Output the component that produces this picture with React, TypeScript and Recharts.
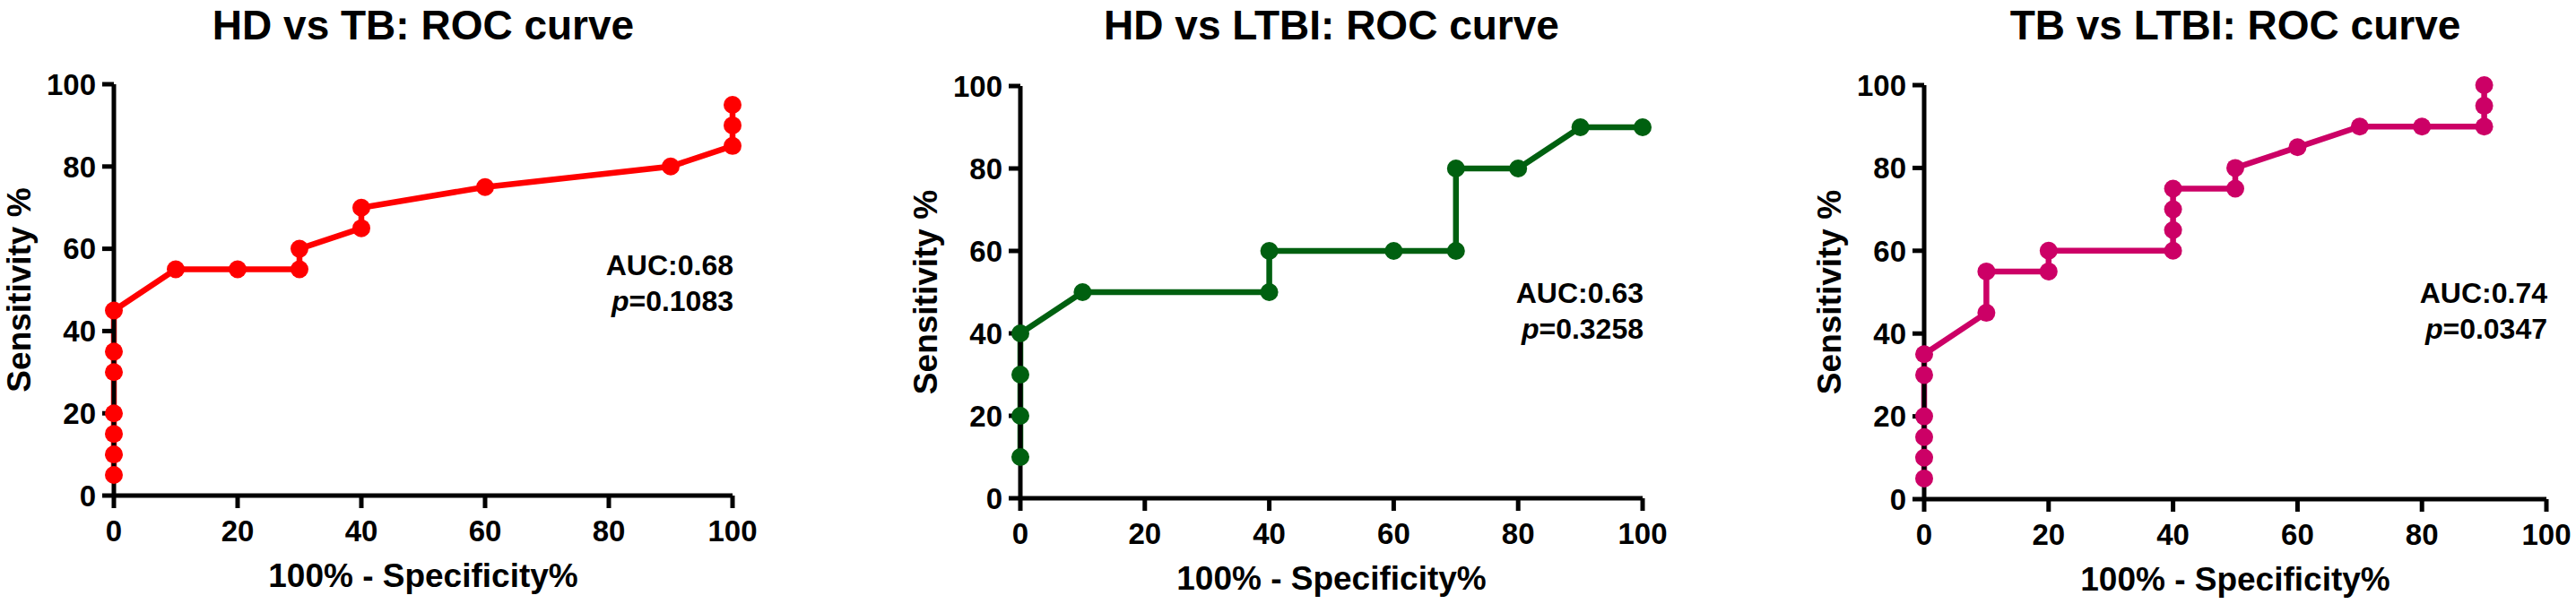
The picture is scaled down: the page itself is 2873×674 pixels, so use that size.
import React from "react";
import { LineChart, Line, XAxis, YAxis } from "recharts";

const xTicks = [0, 20, 40, 60, 80, 100];
const yTicks = [0, 20, 40, 60, 80, 100];

// 100% - specificity (x) and sensitivity (y)
const hdTbFpr = [0, 0, 0, 0, 0, 0, 0, 10, 20, 30, 30, 40, 40, 60, 90, 100, 100, 100];
const hdTbSens = [5, 10, 15, 20, 30, 35, 45, 55, 55, 55, 60, 65, 70, 75, 80, 85, 90, 95];

const hdLtbiFpr = [0, 0, 0, 0, 10, 40, 40, 60, 70, 70, 80, 90, 100];
const hdLtbiSens = [10, 20, 30, 40, 50, 50, 60, 60, 60, 80, 80, 90, 90];

const tbLtbiFpr = [0, 0, 0, 0, 0, 0, 10, 10, 20, 20, 40, 40, 40, 40, 50, 50, 60, 70, 80, 90, 90, 90];
const tbLtbiSens = [5, 10, 15, 20, 30, 35, 45, 55, 55, 60, 60, 65, 70, 75, 75, 80, 85, 90, 90, 90, 95, 100];

const titles = ["HD vs TB: ROC curve", "HD vs LTBI: ROC curve", "TB vs LTBI: ROC curve"];
const aucLabels = ["AUC:0.68", "AUC:0.63", "AUC:0.74"];
const pValues = ["0.1083", "0.3258", "0.0347"];
const colors = ["#ff0000", "#006010", "#cc0066"];

const FONT = "'Liberation Sans', Arial, Helvetica, sans-serif";
const H = 674;

const toRows = (xs: number[], ys: number[]) => xs.map((x, i) => ({ x, y: ys[i] }));

const series = [toRows(hdTbFpr, hdTbSens), toRows(hdLtbiFpr, hdLtbiSens), toRows(tbLtbiFpr, tbLtbiSens)];

// panel placement on the page
const panels = [
  { left: 0, width: 1000, l: 127, r: 817, t: 94, b: 553, note: 307 },
  { left: 1000, width: 990, l: 138, r: 832, t: 96, b: 556, note: 338 },
  { left: 1990, width: 883, l: 156, r: 850, t: 95, b: 557, note: 338 },
];

function RocPanel({ idx }: { idx: number }) {
  const p = panels[idx];
  const color = colors[idx];
  const tickStyle = { fill: "#000", fontSize: 33, fontWeight: 700, fontFamily: FONT };
  const axisStyle = { stroke: "#000", strokeWidth: 5 };
  const cx = (p.l + p.r) / 2;

  return (
    <div style={{ position: "absolute", left: p.left, top: 0, width: p.width, height: H }}>
      <LineChart
        width={p.width}
        height={H}
        data={series[idx]}
        margin={{ top: p.t, right: p.width - p.r, bottom: 0, left: 0 }}
      >
        <XAxis
          type="number"
          dataKey="x"
          domain={[0, 100]}
          ticks={xTicks}
          height={H - p.b}
          tickSize={14}
          tickMargin={14}
          tick={tickStyle}
          axisLine={axisStyle}
          tickLine={axisStyle}
          interval={0}
        />
        <YAxis
          type="number"
          domain={[0, 100]}
          ticks={yTicks}
          width={p.l}
          tickSize={13}
          tickMargin={7}
          tick={tickStyle}
          axisLine={axisStyle}
          tickLine={axisStyle}
          interval={0}
        />
        <Line
          dataKey="y"
          type="linear"
          stroke={color}
          strokeWidth={6.5}
          dot={{ r: 10, fill: color, stroke: color, strokeWidth: 0 }}
          activeDot={false}
          isAnimationActive={false}
        />
      </LineChart>
      <svg
        width={p.width}
        height={H}
        style={{ position: "absolute", left: 0, top: 0, pointerEvents: "none", overflow: "visible" }}
        fontFamily={FONT}
        fontWeight={700}
        fill="#000"
      >
        <text x={cx} y={44} fontSize={46} textAnchor="middle">
          {titles[idx]}
        </text>
        <text x={cx} y={p.b + 102} fontSize={37} textAnchor="middle">
          100% - Specificity%
        </text>
        <text
          transform={`translate(${p.l - 93}, ${(p.t + p.b) / 2}) rotate(-90)`}
          fontSize={37}
          textAnchor="middle"
        >
          Sensitivity %
        </text>
        <text x={p.r + 1} y={p.note} fontSize={32} textAnchor="end">
          {aucLabels[idx]}
        </text>
        <text x={p.r + 1} y={p.note + 40} fontSize={32} textAnchor="end">
          <tspan fontStyle="italic">p</tspan>={pValues[idx]}
        </text>
      </svg>
    </div>
  );
}

export default function App() {
  return (
    <div style={{ position: "absolute", left: 0, top: 0, width: 2873, height: H, background: "#fff" }}>
      <RocPanel idx={0} />
      <RocPanel idx={1} />
      <RocPanel idx={2} />
    </div>
  );
}
